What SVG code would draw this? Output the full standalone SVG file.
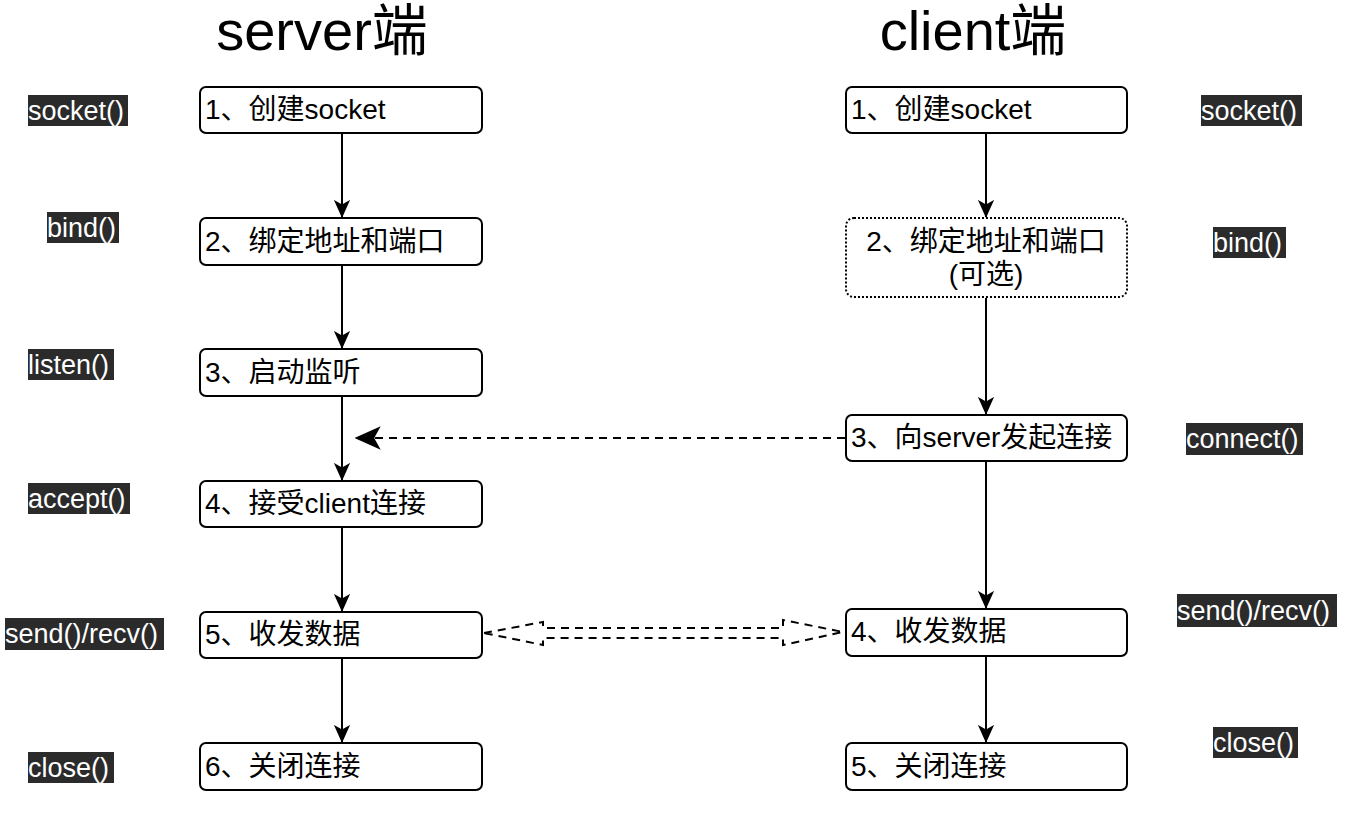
<svg xmlns="http://www.w3.org/2000/svg" width="1355" height="818" viewBox="0 0 1355 818">
<style>
text{font-family:"Liberation Sans","Noto Sans CJK SC",sans-serif;}
.box{fill:#fff;stroke:#000;stroke-width:2;}
.dot{fill:#fff;stroke:#000;stroke-width:2;stroke-dasharray:2 2;}
.t{font-size:28px;fill:#000;}
.title{font-size:56px;fill:#000;text-anchor:middle;}
.lbg{fill:#2b2b2b;}
.lt{font-size:27px;fill:#fff;}
.line{stroke:#000;stroke-width:2;fill:none;}
.dash{stroke:#000;stroke-width:2;fill:none;stroke-dasharray:8 6;}
</style>
<defs>
<marker id="ah" viewBox="0 0 20 20" refX="19" refY="10" markerWidth="18" markerHeight="18" markerUnits="userSpaceOnUse" orient="auto">
<path d="M0,1 L20,10 L0,19 L5,10 Z" fill="#000"/>
</marker>
<marker id="ah2" viewBox="0 0 20 20" refX="19" refY="10" markerWidth="26" markerHeight="26" markerUnits="userSpaceOnUse" orient="auto">
<path d="M0,1 L20,10 L0,19 L5,10 Z" fill="#000"/>
</marker>
</defs>
<rect width="1355" height="818" fill="#fff"/>
<text class="title" x="322" y="50">server端</text>
<text class="title" x="973" y="50">client端</text>
<g id="connectors">
<line class="line" x1="342" y1="134" x2="342" y2="217" marker-end="url(#ah)"/>
<line class="line" x1="342" y1="266" x2="342" y2="348" marker-end="url(#ah)"/>
<line class="line" x1="342" y1="397" x2="342" y2="480" marker-end="url(#ah)"/>
<line class="line" x1="342" y1="528" x2="342" y2="611" marker-end="url(#ah)"/>
<line class="line" x1="342" y1="659" x2="342" y2="742" marker-end="url(#ah)"/>
<line class="line" x1="986" y1="134" x2="986" y2="217" marker-end="url(#ah)"/>
<line class="line" x1="986" y1="298" x2="986" y2="414" marker-end="url(#ah)"/>
<line class="line" x1="986" y1="462" x2="986" y2="608" marker-end="url(#ah)"/>
<line class="line" x1="986" y1="657" x2="986" y2="742" marker-end="url(#ah)"/>
<line class="dash" x1="845" y1="438" x2="356" y2="438" marker-end="url(#ah2)"/>
<path class="dash" d="M484,633 L543,622 L543,628 L783,628 L783,620 L843,632 L783,645 L783,638 L543,638 L543,645 Z"/>
</g>
<g id="s1"><rect class="box" x="200" y="87" width="282" height="46" rx="6"/><text class="t" x="205" y="119">1、创建socket</text></g>
<g id="s2"><rect class="box" x="200" y="218" width="282" height="47" rx="6"/><text class="t" x="205" y="251">2、绑定地址和端口</text></g>
<g id="s3"><rect class="box" x="200" y="349" width="282" height="47" rx="6"/><text class="t" x="205" y="382">3、启动监听</text></g>
<g id="s4"><rect class="box" x="200" y="481" width="282" height="46" rx="6"/><text class="t" x="205" y="513">4、接受client连接</text></g>
<g id="s5"><rect class="box" x="200" y="612" width="282" height="46" rx="6"/><text class="t" x="205" y="644">5、收发数据</text></g>
<g id="s6"><rect class="box" x="200" y="743" width="282" height="47" rx="6"/><text class="t" x="205" y="776">6、关闭连接</text></g>
<g id="c1"><rect class="box" x="846" y="87" width="281" height="46" rx="6"/><text class="t" x="851" y="119">1、创建socket</text></g>
<g id="c2"><rect class="dot" x="846" y="218" width="281" height="79" rx="8"/><text class="t" x="986" y="251" text-anchor="middle">2、绑定地址和端口</text><text class="t" x="986" y="284" text-anchor="middle">(可选)</text></g>
<g id="c3"><rect class="box" x="846" y="415" width="281" height="46" rx="6"/><text class="t" x="851" y="447">3、向server发起连接</text></g>
<g id="c4"><rect class="box" x="846" y="609" width="281" height="47" rx="6"/><text class="t" x="851" y="641">4、收发数据</text></g>
<g id="c5"><rect class="box" x="846" y="743" width="281" height="47" rx="6"/><text class="t" x="851" y="776">5、关闭连接</text></g>
<g id="labels">
<rect class="lbg" x="28" y="95" width="100" height="31"/><text class="lt" x="28" y="120">socket()</text>
<rect class="lbg" x="47" y="212" width="72" height="31"/><text class="lt" x="47" y="237">bind()</text>
<rect class="lbg" x="28" y="349" width="86" height="31"/><text class="lt" x="28" y="374">listen()</text>
<rect class="lbg" x="28" y="483" width="102" height="31"/><text class="lt" x="28" y="508">accept()</text>
<rect class="lbg" x="5" y="618" width="159" height="32"/><text class="lt" x="5" y="643">send()/recv()</text>
<rect class="lbg" x="28" y="752" width="86" height="31"/><text class="lt" x="28" y="777">close()</text>
<rect class="lbg" x="1201" y="95" width="101" height="31"/><text class="lt" x="1201" y="120">socket()</text>
<rect class="lbg" x="1213" y="227" width="73" height="31"/><text class="lt" x="1213" y="252">bind()</text>
<rect class="lbg" x="1186" y="423" width="117" height="32"/><text class="lt" x="1186" y="448">connect()</text>
<rect class="lbg" x="1177" y="594" width="160" height="33"/><text class="lt" x="1177" y="620">send()/recv()</text>
<rect class="lbg" x="1213" y="727" width="85" height="31"/><text class="lt" x="1213" y="752">close()</text>
</g>
</svg>
